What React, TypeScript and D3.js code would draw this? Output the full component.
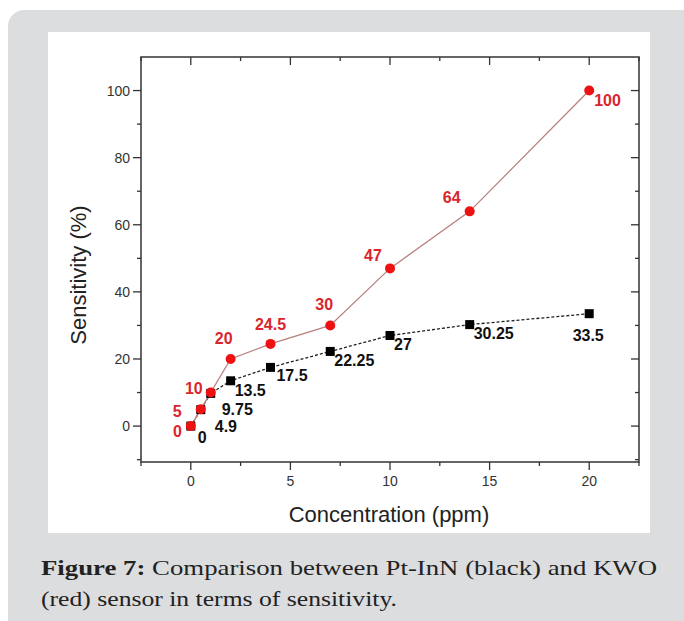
import React, { useEffect, useRef } from 'react';
import * as d3 from 'd3';

// concentration (ppm)
const concentration = [0, 0.5, 1, 2, 4, 7, 10, 14, 20];
// KWO sensor (red)
const kwoSensitivity = [0, 5, 10, 20, 24.5, 30, 47, 64, 100];
const kwoLabels = ['0', '5', '10', '20', '24.5', '30', '47', '64', '100'];
// Pt-InN sensor (black)
const ptSensitivity = [0, 4.9, 9.75, 13.5, 17.5, 22.25, 27, 30.25, 33.5];
const ptLabels = ['0', '4.9', '9.75', '13.5', '17.5', '22.25', '27', '30.25', '33.5'];

const xTicks = [0, 5, 10, 15, 20];
const xMinor = [-2.5, 2.5, 7.5, 12.5, 17.5, 22.5];
const yTicks = [0, 20, 40, 60, 80, 100];
const yMinor = [-10, 10, 30, 50, 70, 90, 110];

// label placement relative to each point: [dx, dy, anchor]
const kwoLabelPos: [number, number, string][] = [
  [-9, 11, 'end'], [-19, 8, 'end'], [-8, 1, 'end'], [-7, -15, 'middle'], [0, -14, 'middle'],
  [-6, -15, 'middle'], [-17, -7, 'middle'], [-18, -8, 'middle'], [5, 15, 'start'],
];
const ptLabelPos: [number, number, string][] = [
  [7, 17, 'start'], [14, 22, 'start'], [11, 22, 'start'], [4, 15, 'start'], [6, 14, 'start'],
  [4, 15, 'start'], [4, 14, 'start'], [4, 14, 'start'], [-1, 27, 'middle'],
];

const App = () => {
  const ref = useRef<SVGSVGElement>(null);

  useEffect(() => {
    const svg = d3.select(ref.current);
    svg.selectAll('*').remove();

    // page background + panels
    svg.append('rect').attr('width', 684).attr('height', 621).attr('fill', '#fff');
    svg.append('rect').attr('x', 8).attr('y', 10).attr('width', 700).attr('height', 640)
      .attr('rx', 16).attr('fill', '#dcdddf');
    svg.append('rect').attr('x', 48).attr('y', 32).attr('width', 602).attr('height', 501).attr('fill', '#fff');

    const left = 141, right = 639, top = 57, bottom = 462;
    const x = d3.scaleLinear().domain([-2.5, 22.5]).range([left, right]);
    const y = d3.scaleLinear().domain([-10.7, 110]).range([bottom, top]);
    const axisColor = '#333';
    const font = '"Liberation Sans", Arial, sans-serif';

    const g = svg.append('g');

    // ticks
    const tick = (x1: number, y1: number, x2: number, y2: number) =>
      g.append('line').attr('x1', x1).attr('y1', y1).attr('x2', x2).attr('y2', y2)
        .attr('stroke', axisColor).attr('stroke-width', 1.3);
    xTicks.forEach((v) => { tick(x(v), bottom, x(v), bottom + 8); tick(x(v), top, x(v), top + 8); });
    xMinor.forEach((v) => { tick(x(v), bottom, x(v), bottom + 4); tick(x(v), top, x(v), top + 4); });
    yTicks.forEach((v) => { tick(left - 8, y(v), left, y(v)); tick(right - 8, y(v), right, y(v)); });
    yMinor.filter((v) => y(v) > top && y(v) < bottom).forEach((v) => {
      tick(left - 4, y(v), left, y(v)); tick(right - 4, y(v), right, y(v));
    });

    // frame
    g.append('rect').attr('x', left).attr('y', top).attr('width', right - left).attr('height', bottom - top)
      .attr('fill', 'none').attr('stroke', axisColor).attr('stroke-width', 1.5);

    g.selectAll('.xt').data(xTicks).enter().append('text')
      .attr('x', (d) => x(d)).attr('y', bottom + 24).attr('text-anchor', 'middle')
      .attr('font-family', font).attr('font-size', 14).attr('fill', axisColor).text((d) => d);
    g.selectAll('.yt').data(yTicks).enter().append('text')
      .attr('x', left - 11).attr('y', (d) => y(d) + 5).attr('text-anchor', 'end')
      .attr('font-family', font).attr('font-size', 14).attr('fill', axisColor).text((d) => d);

    g.append('text').attr('transform', `translate(86, 275) rotate(-90)`).attr('text-anchor', 'middle')
      .attr('font-family', font).attr('font-size', 22).attr('fill', '#222').text('Sensitivity (%)');
    g.append('text').attr('x', 389).attr('y', 522).attr('text-anchor', 'middle')
      .attr('font-family', font).attr('font-size', 22).attr('fill', '#222').text('Concentration (ppm)');

    const idx = d3.range(concentration.length);
    const line = (vals: number[]) =>
      d3.line<number>().x((i) => x(concentration[i])).y((i) => y(vals[i]))(idx);

    // black series
    g.append('path').attr('d', line(ptSensitivity)).attr('fill', 'none')
      .attr('stroke', '#222').attr('stroke-width', 1.3).attr('stroke-dasharray', '3,2');
    // red series
    g.append('path').attr('d', line(kwoSensitivity)).attr('fill', 'none')
      .attr('stroke', '#b98080').attr('stroke-width', 1.3);

    g.selectAll('.sq').data(idx).enter().append('rect')
      .attr('x', (i) => x(concentration[i]) - 4.5).attr('y', (i) => y(ptSensitivity[i]) - 4.5)
      .attr('width', 9).attr('height', 9).attr('fill', '#000');
    g.selectAll('.dot').data(idx).enter().append('circle')
      .attr('cx', (i) => x(concentration[i])).attr('cy', (i) => y(kwoSensitivity[i]))
      .attr('r', 5).attr('fill', '#ee1111');

    g.selectAll('.kl').data(idx).enter().append('text')
      .attr('x', (i) => x(concentration[i]) + kwoLabelPos[i][0])
      .attr('y', (i) => y(kwoSensitivity[i]) + kwoLabelPos[i][1])
      .attr('text-anchor', (i) => kwoLabelPos[i][2])
      .attr('font-family', font).attr('font-size', 16).attr('font-weight', 'bold')
      .attr('fill', '#d9262c').text((i) => kwoLabels[i]);
    g.selectAll('.pl').data(idx).enter().append('text')
      .attr('x', (i) => x(concentration[i]) + ptLabelPos[i][0])
      .attr('y', (i) => y(ptSensitivity[i]) + ptLabelPos[i][1])
      .attr('text-anchor', (i) => ptLabelPos[i][2])
      .attr('font-family', font).attr('font-size', 16).attr('font-weight', 'bold')
      .attr('fill', '#111').text((i) => ptLabels[i]);

    // caption
    const serif = '"Liberation Serif", "DejaVu Serif", serif';
    const c1 = svg.append('text').attr('x', 41).attr('y', 575).attr('font-family', serif)
      .attr('font-size', 22).attr('fill', '#222').attr('textLength', 616).attr('lengthAdjust', 'spacingAndGlyphs');
    c1.append('tspan').attr('font-weight', 'bold').text('Figure 7:');
    c1.append('tspan').text(' Comparison between Pt-InN (black) and KWO');
    svg.append('text').attr('x', 41).attr('y', 606).attr('font-family', serif)
      .attr('font-size', 22).attr('fill', '#222').attr('textLength', 356).attr('lengthAdjust', 'spacingAndGlyphs')
      .text('(red) sensor in terms of sensitivity.');
  }, []);

  return (
    <svg ref={ref} width={684} height={621} style={{ position: 'absolute', left: 0, top: 0 }} />
  );
};

export default App;
